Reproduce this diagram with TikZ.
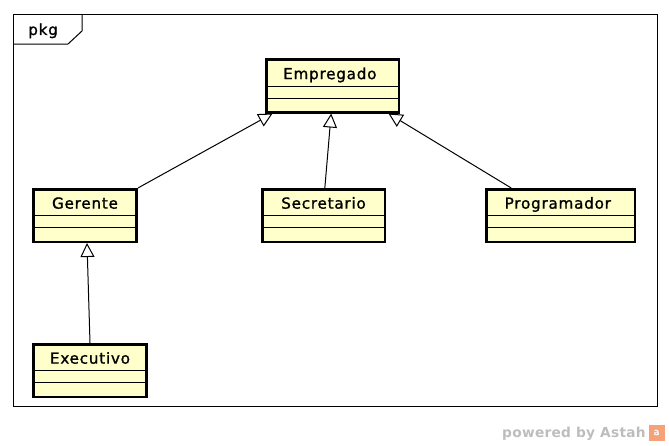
\documentclass[tikz,border=0pt]{standalone}
\usepackage{fontspec}
\setmainfont{DejaVu Sans}[LetterSpace=5, FakeBold=1.2]
\newfontfamily\footerfont{DejaVu Sans Bold}[LetterSpace=2]
\usepackage{xcolor}
\usepackage{tikz}
\usetikzlibrary{arrows.meta,positioning}

\definecolor{umlyellow}{HTML}{FFFFCC}
\definecolor{astahgray}{HTML}{BDBDBD}
\definecolor{astahorange}{HTML}{F4A27A}

\begin{document}
\begin{tikzpicture}[
    x=0.75pt, y=-0.75pt,
    cls/.style={draw, fill=umlyellow, line width=1.9pt, minimum height=39.4pt, inner sep=0pt},
    clsname/.style={anchor=base, inner sep=0pt, font=\fontsize{11.4}{13}\selectfont},
    divider/.style={line width=0.75pt},
    gen/.style={-{Triangle[open, length=10.5pt, width=10.5pt]}, line width=0.75pt}
]
    \useasboundingbox (0,0) rectangle (669,446);

    % Package frame with its tab
    \draw[line width=0.75pt] (13,14) rectangle (657,406);
    \draw[line width=0.75pt] (13,44) -- (68,44) -- (82,31) -- (82,14);
    \node[anchor=base west, inner sep=0pt, font=\fontsize{11.4}{13}\selectfont] (pkg) at (28,35) {pkg};

    % Classes
    \node[cls, minimum width=99.4pt] (empregado) at (332.5,86) {};
    \node[clsname] (empregado-name) at ([xshift=-2pt, yshift=-15.5pt]empregado.north) {Empregado};

    \node[cls, minimum width=77.6pt] (gerente) at (85,215.5) {};
    \node[clsname] (gerente-name) at ([yshift=-15.5pt]gerente.north) {Gerente};

    \node[cls, minimum width=91.9pt] (secretario) at (323.5,215.5) {};
    \node[clsname] (secretario-name) at ([yshift=-15.5pt]secretario.north) {Secretario};

    \node[cls, minimum width=111.4pt] (programador) at (560.5,215.5) {};
    \node[clsname] (programador-name) at ([xshift=-2pt, yshift=-15.5pt]programador.north) {Programador};

    \node[cls, minimum width=85.1pt] (executivo) at (90,370.5) {};
    \node[clsname] (executivo-name) at ([yshift=-15.5pt]executivo.north) {Executivo};

    % Compartment lines
    \foreach \c in {empregado, gerente, secretario, programador, executivo} {
        \draw[divider] ([yshift=-21pt]\c.north west) -- ([yshift=-21pt]\c.north east);
        \draw[divider] ([yshift=-30pt]\c.north west) -- ([yshift=-30pt]\c.north east);
    }

    % Generalizations
    \draw[gen] (gerente.north east) -- ([xshift=-45pt]empregado.south);
    \draw[gen] ([xshift=1pt]secretario.north) -- ([xshift=-1pt]empregado.south);
    \draw[gen] ([xshift=-37pt]programador.north) -- ([xshift=42pt]empregado.south);
    \draw[gen] (executivo.north) -- ([xshift=1.5pt]gerente.south);

    % Footer
    \node[anchor=base east, text=astahgray, inner sep=0pt, font=\footerfont\fontsize{10.3}{12}\selectfont] (powered) at (646,437) {powered by Astah};
    \node[fill=astahorange, minimum size=12pt, inner sep=0pt, text=white, font=\fontsize{7}{8}\selectfont] (logo) at (656.5,432.5) {a};
\end{tikzpicture}
\end{document}
